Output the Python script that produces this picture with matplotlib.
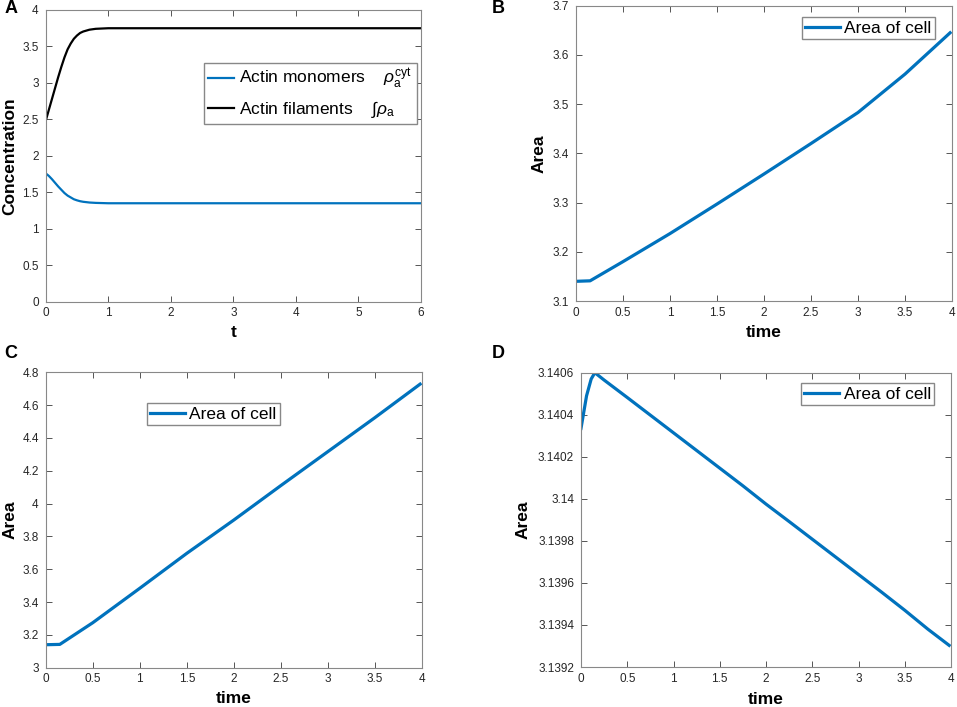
import numpy as np
import matplotlib
matplotlib.use('Agg')
import matplotlib.pyplot as plt
from matplotlib.ticker import FormatStrFormatter

plt.rcParams['font.family'] = ['Liberation Sans', 'DejaVu Sans']
plt.rcParams['mathtext.fontset'] = 'custom'
plt.rcParams['mathtext.rm'] = 'Liberation Sans'
plt.rcParams['mathtext.it'] = 'Liberation Sans:italic'

## Data

# Panel A: actin concentrations vs t
tA = [0, 0.05, 0.1, 0.15, 0.2, 0.25, 0.3, 0.35, 0.4, 0.45, 0.5, 0.55, 0.6, 0.7, 0.8, 1.0, 1.5, 6]
monomers = [1.76, 1.725, 1.68, 1.63, 1.58, 1.535, 1.49, 1.455, 1.43, 1.405, 1.39, 1.378,
            1.37, 1.36, 1.355, 1.35, 1.35, 1.35]
filaments = [2.48, 2.63, 2.78, 2.93, 3.08, 3.22, 3.35, 3.46, 3.54, 3.605, 3.65, 3.685,
             3.705, 3.73, 3.742, 3.75, 3.75, 3.75]

# Panel B: area of cell vs time
tB = [0, 0.15, 0.5, 1, 1.5, 2, 2.5, 3, 3.5, 3.98]
areaB = [3.14, 3.141, 3.18, 3.237, 3.297, 3.358, 3.42, 3.483, 3.561, 3.645]

# Panel C: area of cell vs time
tC = [0, 0.15, 0.5, 1, 1.5, 2, 2.5, 3, 3.5, 3.98]
areaC = [3.14, 3.142, 3.274, 3.484, 3.697, 3.9, 4.11, 4.317, 4.524, 4.728]

# Panel D: area of cell vs time (tiny changes)
tD = [0, 0.06, 0.11, 0.15, 0.25, 0.5, 0.75, 1, 1.25, 1.5, 1.75, 2,
      2.25, 2.5, 2.75, 3, 3.25, 3.5, 3.75, 3.98]
areaD = [3.140335, 3.14049, 3.14057, 3.14060, 3.140565, 3.140482, 3.140398,
         3.140314, 3.140230, 3.140146, 3.140062, 3.139975, 3.139892, 3.139808,
         3.139724, 3.139640, 3.139556, 3.139470, 3.139380, 3.139303]

blue = '#0072BD'
W, H = 957.0, 707.0

fig = plt.figure(figsize=(9.57, 7.07), dpi=100)

def px_axes(left, right, top, bottom):
	return fig.add_axes([left / W, (H - bottom) / H, (right - left) / W, (bottom - top) / H])

def style(ax, xticks, yticks, xlim, ylim, xlabel, ylabel, xlab_y, ylab_x):
	ax.set_xlim(xlim)
	ax.set_ylim(ylim)
	ax.set_xticks(xticks)
	ax.set_yticks(yticks)
	ax.xaxis.set_major_formatter(FormatStrFormatter('%g'))
	ax.yaxis.set_major_formatter(FormatStrFormatter('%g'))
	ax.tick_params(direction='in', top=True, right=True, length=4, width=0.7,
		color='#555555', labelsize=8.5, labelcolor='#262626')
	ax.tick_params(axis='y', pad=5)
	ax.tick_params(axis='x', pad=4)
	for s in ax.spines.values():
		s.set_color('#888888')
		s.set_linewidth(0.8)
	ax.set_xlabel(xlabel, fontsize=12.5, fontweight='bold')
	ax.set_ylabel(ylabel, fontsize=12.5, fontweight='bold')
	ax.xaxis.set_label_coords(0.5, xlab_y)
	ax.yaxis.set_label_coords(ylab_x, 0.5)
	ax.xaxis.label.set_va('center')
	ax.yaxis.label.set_va('center')

def fig_anchor(x, y):
	return (x / W, (H - y) / H)

# Panel A
axA = px_axes(45.7, 421, 10, 301.7)
axA.plot(tA, monomers, color=blue, lw=1.6, label='Actin monomers    $\\rho_\\mathrm{a}^\\mathrm{cyt}$')
axA.plot(tA, filaments, color='k', lw=1.6, label='Actin filaments    \u222b$\\rho_\\mathrm{a}$')
style(axA, np.arange(0, 7, 1), np.arange(0, 4.01, 0.5), (0, 6), (0, 4),
	't', 'Concentration', -0.107, -0.095)
axA.legend(loc='upper left', bbox_to_anchor=fig_anchor(203.7, 62.7), bbox_transform=fig.transFigure,
	fontsize=12.5, frameon=True, fancybox=False, edgecolor='#888888', framealpha=1,
	borderpad=0.25, handlelength=1.5, handletextpad=0.3, labelspacing=0.45, borderaxespad=0)

# Panel B
axB = px_axes(576, 952, 5.7, 301)
axB.plot(tB, areaB, color=blue, lw=2.3, label='Area of cell')
style(axB, np.arange(0, 4.01, 0.5), np.arange(3.1, 3.701, 0.1), (0, 4), (3.1, 3.7),
	'time', 'Area', -0.105, -0.098)
axB.legend(loc='upper left', bbox_to_anchor=fig_anchor(801.7, 17.3), bbox_transform=fig.transFigure,
	fontsize=12.5, frameon=True, fancybox=False, edgecolor='#888888', framealpha=1,
	borderpad=0.2, handlelength=2.0, handletextpad=0.25, borderaxespad=0)

# Panel C
axC = px_axes(45.7, 422, 372.3, 667.7)
axC.plot(tC, areaC, color=blue, lw=2.3, label='Area of cell')
style(axC, np.arange(0, 4.01, 0.5), np.arange(3, 4.801, 0.2), (0, 4), (3, 4.8),
	'time', 'Area', -0.103, -0.095)
axC.legend(loc='upper left', bbox_to_anchor=fig_anchor(146.7, 403.3), bbox_transform=fig.transFigure,
	fontsize=12.5, frameon=True, fancybox=False, edgecolor='#888888', framealpha=1,
	borderpad=0.2, handlelength=2.0, handletextpad=0.25, borderaxespad=0)

# Panel D
axD = px_axes(581, 951, 372.7, 667)
axD.plot(tD, areaD, color=blue, lw=2.3, label='Area of cell')
style(axD, np.arange(0, 4.01, 0.5), np.linspace(3.1392, 3.1406, 8), (0, 4), (3.1392, 3.1406),
	'time', 'Area', -0.109, -0.157)
axD.legend(loc='upper left', bbox_to_anchor=fig_anchor(801, 383.3), bbox_transform=fig.transFigure,
	fontsize=12.5, frameon=True, fancybox=False, edgecolor='#888888', framealpha=1,
	borderpad=0.2, handlelength=2.0, handletextpad=0.25, borderaxespad=0)

# Panel letters
for letter, x, y in [('A', 11, 8.5), ('B', 498.5, 8.5), ('C', 10.5, 353.5), ('D', 498.5, 353.5)]:
	fig.text(x / W, (H - y) / H, letter, fontsize=13, fontweight='bold', ha='center', va='center')

plt.savefig('out.png', dpi=100)
